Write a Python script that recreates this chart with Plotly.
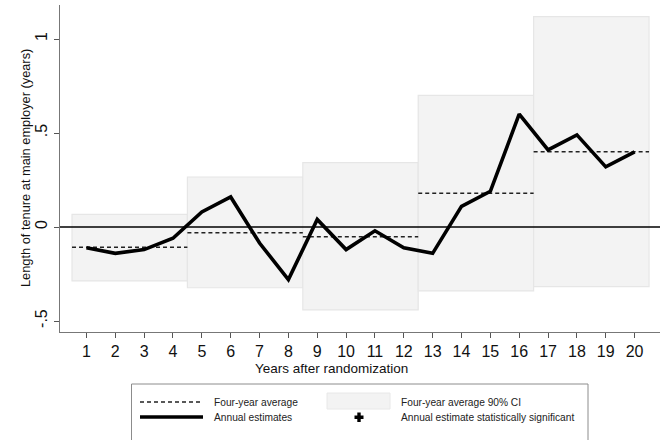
import plotly.graph_objects as go

# Annual estimates by year after randomization
years = list(range(1, 21))
annual = [-0.11, -0.14, -0.12, -0.06, 0.08, 0.16, -0.085, -0.28, 0.04, -0.12,
          -0.02, -0.11, -0.14, 0.11, 0.19, 0.60, 0.41, 0.49, 0.32, 0.40]

# Four-year blocks: averages and 90% confidence intervals
block_start = [1, 5, 9, 13, 17]
block_end = [4, 8, 12, 16, 20]
block_avg = [-0.108, -0.031, -0.052, 0.18, 0.40]
block_lo = [-0.287, -0.323, -0.441, -0.34, -0.317]
block_hi = [0.067, 0.266, 0.342, 0.70, 1.119]

y_ticks = [-0.5, 0, 0.5, 1]
y_tick_text = ["-.5", "0", ".5", "1"]

X_RANGE = [0.084, 20.88]
Y_RANGE = [-0.5585, 1.181]

FONT = "Liberation Sans, Arial, sans-serif"

fig = go.Figure()

# CI boxes
shapes = []
for s, e, lo, hi in zip(block_start, block_end, block_lo, block_hi):
    shapes.append(dict(type="rect", xref="x", yref="y", x0=s - 0.5, x1=e + 0.5,
                       y0=lo, y1=hi, fillcolor="#f3f3f3",
                       line=dict(color="#e6e6e6", width=1.2), layer="below"))

# zero reference line across the whole plot
fig.add_trace(go.Scatter(x=X_RANGE, y=[0, 0], mode="lines",
                         line=dict(color="black", width=1.3),
                         showlegend=False, hoverinfo="skip"))

# four-year averages (dashed)
for s, e, a in zip(block_start, block_end, block_avg):
    fig.add_trace(go.Scatter(x=[s - 0.5, e + 0.5], y=[a, a], mode="lines",
                             line=dict(color="#222222", width=1.5, dash="4px,3px"),
                             showlegend=False, hoverinfo="skip"))

# annual estimates
fig.add_trace(go.Scatter(x=years, y=annual, mode="lines",
                         line=dict(color="black", width=3.6),
                         showlegend=False))

# ---- custom legend box below the plot (pixel -> paper helpers) ----
L, T, R, B = 60, 5, 660, 332
W, H = R - L, B - T


def px(x):
    return (x - L) / W


def py(y):
    return (B - y) / H


def leg_line(x0, x1, y, width, dash=None, color="black"):
    shapes.append(dict(type="line", xref="paper", yref="paper",
                       x0=px(x0), x1=px(x1), y0=py(y), y1=py(y),
                       line=dict(color=color, width=width, dash=dash)))


shapes.append(dict(type="rect", xref="paper", yref="paper",
                   x0=px(131.5), x1=px(588), y0=py(384), y1=py(446),
                   line=dict(color="#8c8c8c", width=1), fillcolor="white"))
leg_line(140, 203, 402, 1.3, dash="4px,3px", color="#222222")
leg_line(140, 203, 417, 3.6)
shapes.append(dict(type="rect", xref="paper", yref="paper",
                   x0=px(327), x1=px(390), y0=py(393), y1=py(409),
                   fillcolor="#f3f3f3", line=dict(color="#e8e8e8", width=1)))
# plus marker
shapes.append(dict(type="rect", xref="paper", yref="paper",
                   x0=px(354.5), x1=px(363.5), y0=py(415.5), y1=py(419),
                   fillcolor="black", line=dict(width=0)))
shapes.append(dict(type="rect", xref="paper", yref="paper",
                   x0=px(357.3), x1=px(360.7), y0=py(412.5), y1=py(422),
                   fillcolor="black", line=dict(width=0)))

annotations = []
for txt, x, y in [("Four-year average", 212, 402),
                  ("Four-year average 90% CI", 399, 402),
                  ("Annual estimates", 212, 417),
                  ("Annual estimate statistically significant", 399, 417)]:
    annotations.append(dict(text=txt, xref="paper", yref="paper", x=px(x), y=py(y),
                            xanchor="left", yanchor="middle", showarrow=False,
                            font=dict(family=FONT, size=10.2, color="#222222")))

annotations.append(dict(text="Years after randomization", xref="paper", yref="paper",
                        x=px(331), y=py(368), xanchor="center", yanchor="middle",
                        showarrow=False, font=dict(family=FONT, size=13.5, color="#111111")))
annotations.append(dict(text="Length of tenure at main employer (years)", xref="paper",
                        yref="paper", x=px(25), y=py(168), xanchor="center",
                        yanchor="middle", textangle=-90, showarrow=False,
                        font=dict(family=FONT, size=12.8, color="#111111")))

fig.update_layout(
    width=660, height=440,
    margin=dict(l=L, r=660 - R, t=T, b=440 - B),
    paper_bgcolor="white", plot_bgcolor="white",
    shapes=shapes, annotations=annotations,
    showlegend=False,
    xaxis=dict(range=X_RANGE, tickmode="array", tickvals=years,
               ticktext=[str(y) for y in years], ticks="outside", ticklen=5,
               tickcolor="#555555", showline=True, linecolor="#777777", linewidth=1.3,
               showgrid=False, zeroline=False, fixedrange=True,
               tickfont=dict(family=FONT, size=16, color="#111111")),
    yaxis=dict(range=Y_RANGE, tickmode="array", tickvals=y_ticks,
               ticktext=y_tick_text, tickangle=-90, ticks="outside", ticklen=5,
               tickcolor="#555555", showline=True, linecolor="#777777", linewidth=1.3,
               showgrid=False, zeroline=False, fixedrange=True,
               tickfont=dict(family=FONT, size=16, color="#111111")),
)

fig.write_html("out.html")
